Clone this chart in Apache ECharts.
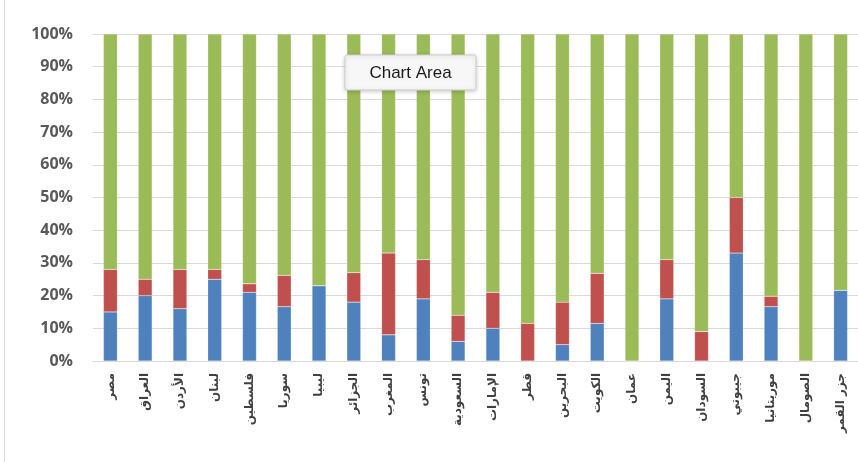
<!DOCTYPE html>
<html>
<head>
<meta charset="utf-8">
<script src="https://cdn.jsdelivr.net/npm/echarts@6/dist/echarts.min.js"></script>
<style>
  html, body { margin: 0; padding: 0; background: #fff; }
  #main { width: 858px; height: 462px; }
</style>
</head>
<body>
<div id="main"></div>
<script>
// الدول
const countries = ['مصر', 'العراق', 'الأردن', 'لبنان', 'فلسطين', 'سوريا', 'ليبيا', 'الجزائر',
  'المغرب', 'تونس', 'السعودية', 'الإمارات', 'قطر', 'البحرين', 'الكويت', 'عمان', 'اليمن',
  'السودان', 'جيبوتي', 'موريتانيا', 'الصومال', 'جزر القمر']

// percentages
const blueVals = [15, 20, 16, 25, 21, 16.6, 23, 18, 8, 19, 6, 10, 0, 5, 11.5, 0, 19, 0, 33, 16.6, 0, 21.6]
const redVals = [13, 5, 12, 3, 2.6, 9.6, 0, 9, 25, 12, 8, 11, 11.5, 13, 15.3, 0, 12, 9, 17, 3.2, 0, 0]
const greenVals = [72, 75, 72, 72, 76.4, 73.8, 77, 73, 67, 69, 86, 79, 88.5, 82, 73.2, 100, 69, 91, 50, 80.2, 100, 78.4]

const yTicks = [0, 10, 20, 30, 40, 50, 60, 70, 80, 90, 100]

let blue = '#4f81bd'
let red = '#c0504d'
let green = '#9bbb59'

const mkSeries = (data, color) => ({
  type: 'bar',
  stack: 'total',
  data: data,
  barWidth: '40%',
  itemStyle: { color: color, borderColor: 'rgba(255,255,255,0.35)', borderWidth: 0.5 },
})

let option = {
  animation: false,
  backgroundColor: '#fff',
  grid: { left: 93, right: -3, top: 34, height: 327 },
  xAxis: {
    type: 'category',
    data: countries,
    axisTick: { show: false },
    axisLine: { lineStyle: { color: '#d9d9d9', width: 1 } },
    axisLabel: {
      rotate: 90,
      interval: 0,
      margin: 12,
      color: '#404040',
      fontSize: 12,
      fontWeight: 'bold',
      fontFamily: 'DejaVu Sans',
    },
  },
  yAxis: {
    type: 'value',
    min: yTicks[0],
    max: yTicks[yTicks.length - 1],
    interval: 10,
    axisLine: { show: false },
    axisTick: { show: false },
    splitLine: { lineStyle: { color: '#d9d9d9', width: 1 } },
    axisLabel: {
      formatter: '{value}%',
      margin: 20,
      color: '#595959',
      fontSize: 16,
      fontWeight: 'bold',
      fontFamily: 'Open Sans',
    },
  },
  series: [mkSeries(blueVals, blue), mkSeries(redVals, red), mkSeries(greenVals, green)],
  graphic: [
    // chart border on the left
    {
      type: 'line',
      z: 100,
      shape: { x1: 4.5, y1: 0, x2: 4.5, y2: 462 },
      style: { stroke: '#d9d9d9', lineWidth: 1 },
    },
    // excel "Chart Area" hover box
    {
      type: 'rect',
      z: 100,
      shape: { x: 345, y: 55, width: 131, height: 35, r: 2 },
      style: {
        fill: '#f7f7f7',
        stroke: '#cfcfcf',
        lineWidth: 1,
        shadowBlur: 4,
        shadowColor: 'rgba(0,0,0,0.2)',
        shadowOffsetY: 1,
      },
    },
    {
      type: 'text',
      z: 101,
      x: 410.5,
      y: 73,
      style: {
        text: 'Chart Area',
        fill: '#1a1a1a',
        font: '17px "Liberation Sans"',
        align: 'center',
        verticalAlign: 'middle',
      },
    },
  ],
}

let myChart = echarts.init(document.getElementById('main'))
myChart.setOption(option)
</script>
</body>
</html>
